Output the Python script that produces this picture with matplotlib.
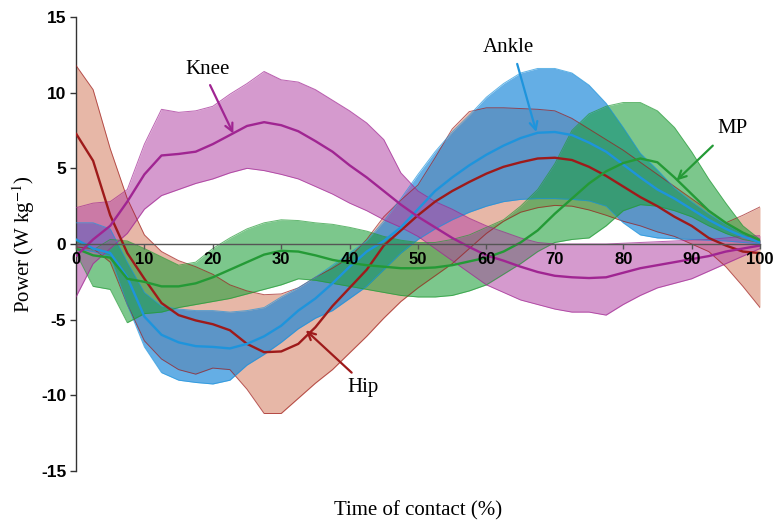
import matplotlib
matplotlib.use("Agg")
import matplotlib.pyplot as plt

# Percent of contact time at which the curves are sampled
contact = [0, 2.5, 5, 7.5, 10, 12.5, 15, 17.5, 20, 22.5, 25, 27.5, 30, 32.5, 35,
           37.5, 40, 42.5, 45, 47.5, 50, 52.5, 55, 57.5, 60, 62.5, 65, 67.5, 70,
           72.5, 75, 77.5, 80, 82.5, 85, 87.5, 90, 92.5, 95, 97.5, 100]

# Joint power (W/kg): mean and +/- SD envelope for each joint
knee_mean = [-0.8, 0.3, 1.2, 2.8, 4.6, 5.85, 5.95, 6.1, 6.6, 7.2, 7.8, 8.05, 7.85,
             7.45, 6.8, 6.1, 5.2, 4.4, 3.5, 2.6, 1.8, 1.1, 0.4, -0.2, -0.75, -1.1,
             -1.5, -1.85, -2.1, -2.2, -2.25, -2.2, -1.9, -1.6, -1.4, -1.2, -1.0,
             -0.8, -0.5, -0.3, -0.1]
knee_upper = [2.4, 2.7, 2.8, 3.6, 6.6, 8.9, 8.7, 8.8, 9.1, 9.9, 10.6, 11.4, 10.85,
              10.7, 10.2, 9.5, 8.8, 8.0, 6.9, 4.7, 3.5, 2.8, 2.3, 1.7, 1.2, 0.8, 0.4,
              0.1, 0.0, 0.0, 0.0, 0.0, 0.05, 0.1, 0.15, 0.2, 0.25, 0.3, 0.4, 0.5, 0.55]
knee_lower = [-3.5, -1.3, -0.3, 0.7, 2.3, 3.2, 3.6, 4.0, 4.3, 4.7, 5.0, 4.85, 4.6,
              4.3, 3.8, 3.3, 2.7, 2.2, 1.6, 1.1, 0.5, -0.3, -1.1, -1.9, -2.7, -3.2,
              -3.7, -4.0, -4.3, -4.5, -4.5, -4.7, -4.0, -3.4, -2.9, -2.6, -2.3, -1.8,
              -1.3, -0.8, -0.3]

hip_mean = [7.3, 5.5, 1.9, -0.6, -2.3, -3.9, -4.7, -5.05, -5.3, -5.7, -6.6, -7.15,
            -7.1, -6.6, -5.5, -4.1, -2.9, -1.7, -0.1, 0.9, 1.9, 2.8, 3.5, 4.1, 4.65,
            5.1, 5.4, 5.65, 5.7, 5.55, 5.1, 4.5, 3.8, 3.1, 2.5, 1.8, 1.2, 0.4, -0.1,
            -0.5, -0.6]
hip_upper = [11.8, 10.2, 6.3, 3.0, 0.6, -0.5, -1.1, -1.5, -2.0, -2.7, -3.1, -3.35,
             -3.3, -2.9, -2.2, -1.6, -0.9, 0.3, 1.8, 2.9, 3.9, 5.7, 7.6, 8.75, 9.0,
             9.0, 8.95, 8.9, 8.8, 8.3, 7.6, 6.9, 6.2, 5.4, 4.6, 3.8, 3.0, 2.2, 1.4,
             1.9, 2.45]
hip_lower = [-0.2, -0.3, -1.2, -4.0, -6.4, -7.6, -8.3, -8.6, -8.2, -8.3, -9.6,
             -11.2, -11.2, -10.2, -9.2, -8.3, -7.2, -6.1, -4.9, -3.8, -2.9, -2.1,
             -1.3, -0.3, 0.7, 1.5, 2.1, 2.4, 2.55, 2.5, 2.25, 1.9, 1.5, 1.2, 0.8, 0.5,
             0.0, -0.5, -1.5, -2.8, -4.2]

ankle_mean = [0.3, -0.3, -0.6, -2.2, -4.8, -6.0, -6.5, -6.75, -6.8, -6.9, -6.6,
              -6.1, -5.4, -4.4, -3.6, -2.6, -1.5, -0.5, 0.2, 1.1, 2.3, 3.5, 4.4, 5.2,
              5.9, 6.5, 7.0, 7.35, 7.4, 7.2, 6.7, 6.1, 5.25, 4.4, 3.6, 3.0, 2.3, 1.6,
              1.0, 0.5, 0.1]
ankle_upper = [1.4, 1.4, 1.0, -1.2, -3.2, -4.1, -4.3, -4.4, -4.4, -4.5, -4.4, -4.2,
               -3.5, -2.9, -2.2, -1.4, -0.6, 0.2, 1.5, 3.0, 4.6, 6.1, 7.4, 8.5, 9.7,
               10.6, 11.3, 11.6, 11.6, 11.3, 10.5, 9.3, 7.7, 6.0, 4.9, 3.7, 2.8, 2.0,
               1.3, 0.7, 0.25]
ankle_lower = [-0.3, -0.5, -0.8, -4.0, -6.8, -8.5, -9.0, -9.15, -9.25, -9.0, -8.0,
               -7.3, -6.5, -5.6, -4.9, -4.4, -3.6, -2.8, -1.7, -0.6, 0.3, 1.0, 1.6,
               2.1, 2.5, 2.8, 2.95, 3.0, 3.0, 2.95, 2.85, 2.5, 1.4, 0.6, 0.4, 0.35,
               0.3, 0.25, 0.2, 0.1, 0.0]

mp_mean = [-0.3, -0.75, -0.9, -2.3, -2.5, -2.8, -2.8, -2.6, -2.2, -1.7, -1.2, -0.7,
           -0.45, -0.5, -0.75, -1.05, -1.25, -1.4, -1.5, -1.6, -1.6, -1.55, -1.4,
           -1.15, -0.9, -0.5, 0.1, 0.9, 2.0, 3.0, 4.0, 4.8, 5.35, 5.65, 5.4, 4.4,
           3.3, 2.2, 1.4, 0.75, 0.25]
mp_upper = [0.2, -0.4, 0.3, 0.2, -0.3, -0.85, -1.4, -1.2, -0.3, 0.4, 1.0, 1.4, 1.6,
            1.55, 1.4, 1.3, 1.1, 0.85, 0.5, 0.25, 0.1, 0.1, 0.3, 0.6, 1.1, 1.6, 2.5,
            3.6, 5.3, 7.5, 8.6, 9.1, 9.35, 9.35, 8.8, 7.7, 6.1, 4.3, 2.7, 1.2, 0.3]
mp_lower = [-0.6, -2.8, -3.0, -5.2, -4.6, -4.5, -4.2, -4.0, -3.8, -3.6, -3.3, -3.0,
            -2.7, -2.3, -2.4, -2.6, -2.8, -3.0, -3.2, -3.4, -3.5, -3.5, -3.4, -3.1,
            -2.7, -2.0, -1.3, -0.5, 0.1, 0.3, 0.4, 1.2, 2.2, 2.6, 2.5, 2.2, 1.8, 1.2,
            0.7, 0.3, 0.1]

x_ticks = [0, 10, 20, 30, 40, 50, 60, 70, 80, 90, 100]
y_ticks = [-15, -10, -5, 0, 5, 10, 15]

SANS = ["Liberation Sans", "DejaVu Sans"]
SERIF = ["Liberation Serif", "DejaVu Serif"]
plt.rcParams["mathtext.fontset"] = "stix"

fig = plt.figure(figsize=(7.75, 5.23), dpi=100)
ax = fig.add_axes([76 / 775, 1 - 471 / 523, 684 / 775, 454 / 523])

# (mean, upper, lower, line colour, band colour, band alpha), in drawing order
series = [
    (hip_mean, hip_upper, hip_lower, "#9e1a1a", "#d07050", 0.5),
    (ankle_mean, ankle_upper, ankle_lower, "#1e94dc", "#1484d8", 0.66),
    (mp_mean, mp_upper, mp_lower, "#249a36", "#1ea03a", 0.58),
    (knee_mean, knee_upper, knee_lower, "#a02592", "#b448a6", 0.55),
]

for mean, up, lo, lc, fc, a in series:
    ax.fill_between(contact, lo, up, color=fc, alpha=a, lw=0, zorder=2)
    ax.plot(contact, up, color=lc, lw=0.7, alpha=0.7, zorder=3)
    ax.plot(contact, lo, color=lc, lw=0.7, alpha=0.7, zorder=3)

for mean, up, lo, lc, fc, a in series:
    ax.plot(contact, mean, color=lc, lw=1.7, zorder=5, solid_capstyle="round")

ax.set_xlim(0, 100)
ax.set_ylim(-15, 15)

for s in ("top", "right"):
    ax.spines[s].set_visible(False)
ax.spines["bottom"].set_position(("data", 0))
ax.spines["bottom"].set_color("#555555")
ax.spines["bottom"].set_linewidth(1.0)
ax.spines["bottom"].set_zorder(6)
ax.spines["left"].set_color("#333333")
ax.spines["left"].set_linewidth(1.0)
ax.xaxis.set_zorder(8)
ax.yaxis.set_zorder(8)

ax.set_xticks(x_ticks)
ax.set_yticks(y_ticks)
ax.set_xticklabels([str(v) for v in x_ticks], fontfamily=SANS,
                   fontweight="bold", fontsize=12)
ax.set_yticklabels([str(v) for v in y_ticks], fontfamily=SANS,
                   fontweight="bold", fontsize=12.5)
ax.tick_params(axis="x", direction="out", length=3.5, width=1.0,
               color="#555555", pad=2)
ax.tick_params(axis="y", direction="out", length=4, width=1.0,
               color="#333333", pad=3)

ax.set_ylabel(r"Power (W kg$^{-1}$)", fontfamily=SERIF, fontsize=15, labelpad=3)
ax.set_xlabel("Time of contact (%)", fontfamily=SERIF, fontsize=15)
ax.xaxis.set_label_coords(0.5, -0.066)

# Joint labels with pointer arrows
labels = [
    ("Knee", (19.2, 11.5), (19.6, 10.5), (23.0, 7.3), "#a02592"),
    ("Ankle", (63.2, 13.0), (64.5, 11.9), (67.3, 7.4), "#1e94dc"),
    ("MP", (96.0, 7.6), (93.1, 6.5), (87.8, 4.2), "#249a36"),
    ("Hip", (41.9, -9.5), (40.3, -8.5), (33.6, -5.7), "#9e1a1a"),
]
for name, tpos, start, end, c in labels:
    ax.text(tpos[0], tpos[1], name, fontfamily=SERIF, fontsize=15,
            ha="center", va="center", zorder=7)
    ax.annotate("", xy=end, xytext=start,
                arrowprops=dict(arrowstyle="->", color=c, lw=1.6,
                                shrinkA=0, shrinkB=0, mutation_scale=14),
                zorder=7)

fig.savefig("out.png", dpi=100)
